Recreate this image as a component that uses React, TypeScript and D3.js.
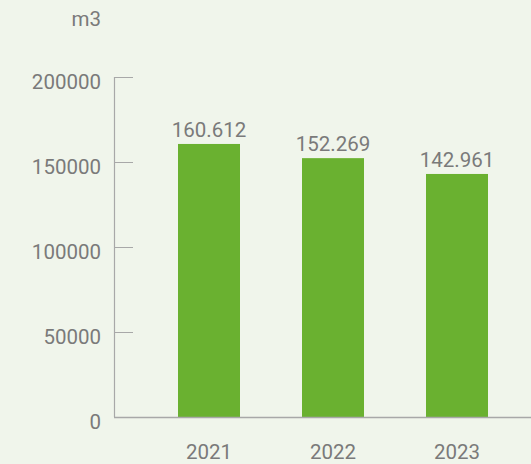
import React from "react";
import * as d3 from "d3";

const categories = ["2021", "2022", "2023"];
const values = [160612, 152269, 142961];
const valueLabels = ["160.612", "152.269", "142.961"];
const yTicks = [0, 50000, 100000, 150000, 200000];
const unitLabel = "m3";

export default function App() {
  const W = 531;
  const H = 464;
  const axisX = 114.5;
  const y = d3.scaleLinear().domain([0, 200000]).range([417, 77]);
  const x = d3
    .scaleBand<string>()
    .domain(categories)
    .range([147, 519])
    .paddingInner(0.5)
    .paddingOuter(0.25);
  const textColor = "#7a7a7a";
  const axisColor = "#a8a8a8";
  const font = "Roboto, 'Noto Sans', sans-serif";
  const fs = 20.5;
  return (
    <svg
      width={W}
      height={H}
      style={{ position: "absolute", left: 0, top: 0 }}
      fontFamily={font}
    >
      <rect x={0} y={0} width={W} height={H} fill="#f0f5eb" />
      <text x={101} y={26} textAnchor="end" fontSize={fs} fill={textColor}>
        {unitLabel}
      </text>
      {/* y axis */}
      <line x1={axisX} x2={axisX} y1={y(200000)} y2={y(0)} stroke={axisColor} strokeWidth={1.2} />
      {yTicks.map((t) => (
        <g key={t}>
          <line x1={axisX} x2={133} y1={Math.round(y(t)) + 0.5} y2={Math.round(y(t)) + 0.5} stroke={axisColor} strokeWidth={1} />
          <text x={101} y={y(t) + 12} textAnchor="end" fontSize={fs} fill={textColor}>
            {t}
          </text>
        </g>
      ))}
      {/* bars */}
      {categories.map((c, i) => (
        <g key={c}>
          <rect
            x={x(c)}
            y={y(values[i])}
            width={x.bandwidth()}
            height={y(0) - y(values[i])}
            fill="#6ab130"
          />
          <text
            x={(x(c) as number) + x.bandwidth() / 2}
            y={y(values[i]) - 7}
            textAnchor="middle"
            fontSize={fs}
            fill={textColor}
          >
            {valueLabels[i]}
          </text>
          <text
            x={(x(c) as number) + x.bandwidth() / 2}
            y={459}
            textAnchor="middle"
            fontSize={fs}
            fill={textColor}
          >
            {c}
          </text>
        </g>
      ))}
      {/* x axis */}
      <line x1={axisX - 0.5} x2={W} y1={417.5} y2={417.5} stroke={axisColor} strokeWidth={1.5} />
    </svg>
  );
}
